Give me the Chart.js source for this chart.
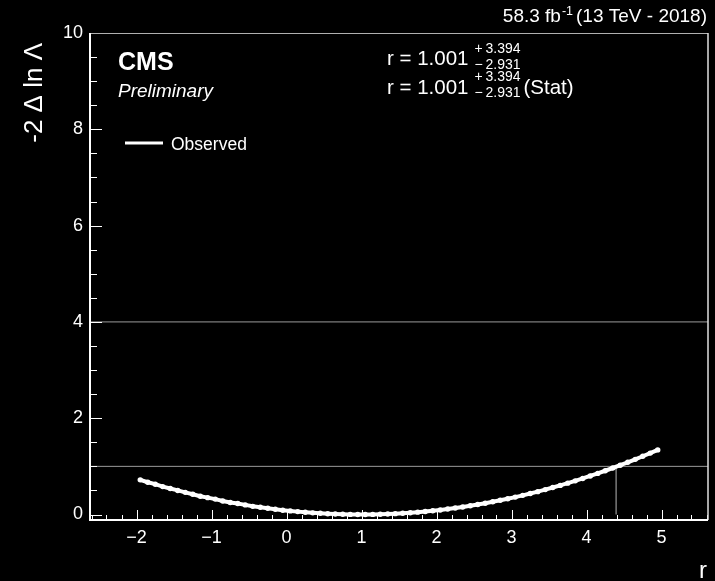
<!DOCTYPE html>
<html>
<head>
<meta charset="utf-8">
<script src="https://cdn.jsdelivr.net/npm/chart.js@4.4.1/dist/chart.umd.min.js"></script>
<style>
  html, body { margin: 0; padding: 0; background: #000; }
  #wrap { width: 715px; height: 581px; }
</style>
</head>
<body>
<div id="wrap"><canvas id="scan" width="715" height="581"></canvas></div>
<script>
// likelihood scan in r: -2 delta ln L at each scan point
const scanR = [
  -1.95, -1.85, -1.75, -1.65, -1.55, -1.45, -1.35, -1.25, -1.15, -1.05,
  -0.95, -0.85, -0.75, -0.65, -0.55, -0.45, -0.35, -0.25, -0.15, -0.05,
   0.05,  0.15,  0.25,  0.35,  0.45,  0.55,  0.65,  0.75,  0.85,  0.95,
   1.05,  1.15,  1.25,  1.35,  1.45,  1.55,  1.65,  1.75,  1.85,  1.95,
   2.05,  2.15,  2.25,  2.35,  2.45,  2.55,  2.65,  2.75,  2.85,  2.95,
   3.05,  3.15,  3.25,  3.35,  3.45,  3.55,  3.65,  3.75,  3.85,  3.95,
   4.05,  4.15,  4.25,  4.35,  4.45,  4.55,  4.65,  4.75,  4.85,  4.95
];
const scanNll = [
  0.72, 0.67, 0.63, 0.58, 0.54, 0.50, 0.46, 0.42, 0.38, 0.35,
  0.32, 0.28, 0.25, 0.23, 0.20, 0.17, 0.15, 0.13, 0.11, 0.09,
  0.075, 0.06, 0.047, 0.035, 0.025, 0.017, 0.010, 0.005, 0.002, 0.0,
  0.0, 0.002, 0.005, 0.011, 0.018, 0.026, 0.037, 0.049, 0.062, 0.078,
  0.095, 0.114, 0.135, 0.157, 0.182, 0.207, 0.235, 0.264, 0.295, 0.328,
  0.362, 0.398, 0.436, 0.475, 0.517, 0.560, 0.605, 0.651, 0.699, 0.749,
  0.801, 0.854, 0.909, 0.966, 1.024, 1.084, 1.146, 1.210, 1.275, 1.342
];

const xTicks = [-2, -1, 0, 1, 2, 3, 4, 5];
const yTicks = [0, 2, 4, 6, 8, 10];
const levelLines = [1, 4];

const rBest = 1.001;
const rErrUp = 3.394;
const rErrDown = 2.931;

const xMin = -2.62, xMax = 5.62;
const yMin = -0.114, yMax = 10;

const FONT = '"Liberation Sans", Arial, Helvetica, sans-serif';
Chart.defaults.font.family = FONT;

const datasets = [{
  label: 'Observed',
  data: scanR.map((r, i) => ({ x: r, y: scanNll[i] })),
  borderColor: '#ffffff',
  backgroundColor: '#ffffff',
  borderWidth: 4,
  pointRadius: 2.7,
  pointBorderWidth: 0,
  tension: 0
}];

// horizontal reference levels across the whole frame
levelLines.forEach(lv => {
  datasets.push({
    label: 'level ' + lv,
    data: [{ x: xMin, y: lv }, { x: xMax, y: lv }],
    borderColor: '#9a9a9a',
    borderWidth: 1,
    pointRadius: 0
  });
});

// upper edge of the 68% interval, drawn down to the minimum
datasets.push({
  label: 'upper bound',
  data: [{ x: rBest + rErrUp, y: 0 }, { x: rBest + rErrUp, y: 1 }],
  borderColor: '#7a7a7a',
  borderWidth: 1.5,
  pointRadius: 0
});

function line(ctx, x1, y1, x2, y2) {
  ctx.beginPath();
  ctx.moveTo(x1, y1);
  ctx.lineTo(x2, y2);
  ctx.stroke();
}

// text with a raised and a lowered index placed after it
function drawWithErrors(ctx, x, base, main, up, down, tail) {
  ctx.font = '20.5px ' + FONT;
  ctx.fillText(main, x, base);
  const sx = x + ctx.measureText(main).width + 6;
  ctx.font = '14px ' + FONT;
  ctx.fillText('+', sx, base - 12.5);
  ctx.fillText(up, sx + 11, base - 12.5);
  ctx.fillText('\u2212', sx, base + 3.5);
  ctx.fillText(down, sx + 11, base + 3.5);
  if (tail) {
    const tx = sx + 11 + Math.max(ctx.measureText(up).width, ctx.measureText(down).width) + 3;
    ctx.font = '20.5px ' + FONT;
    ctx.fillText(tail, tx, base);
  }
}

const frameDecor = {
  id: 'frameDecor',
  afterDatasetsDraw(chart) {
    const ctx = chart.ctx;
    const { left, right, top, bottom } = chart.chartArea;
    const xs = chart.scales.x, ys = chart.scales.y;
    ctx.save();
    ctx.strokeStyle = '#ffffff';
    ctx.lineWidth = 1;

    // x ticks: majors every 1, minors every 0.2, pointing into the frame
    for (let k = Math.ceil(xMin / 0.2); k * 0.2 <= xMax; k++) {
      const v = k * 0.2;
      const major = Math.abs(v - Math.round(v)) < 1e-6;
      const px = Math.round(xs.getPixelForValue(v)) + 0.5;
      line(ctx, px, bottom, px, bottom - (major ? 10 : 5));
    }
    // y ticks: majors every 2, minors every 0.5
    for (let k = 0; k * 0.5 <= yMax; k++) {
      const v = k * 0.5;
      const major = k % 4 === 0;
      const py = Math.round(ys.getPixelForValue(v)) + 0.5;
      line(ctx, left, py, left + (major ? 12 : 7), py);
    }

    // frame
    ctx.strokeStyle = '#b0b0b0';
    line(ctx, left, top + 0.5, right, top + 0.5);
    ctx.strokeStyle = '#e0e0e0';
    ctx.lineWidth = 1.5;
    line(ctx, right, top, right, bottom);
    ctx.strokeStyle = '#ffffff';
    ctx.lineWidth = 2;
    line(ctx, left, top, left, bottom + 1);
    line(ctx, left, bottom, right, bottom);
    ctx.restore();
  },
  afterDraw(chart) {
    const ctx = chart.ctx;
    ctx.save();
    ctx.fillStyle = '#ffffff';
    ctx.textBaseline = 'alphabetic';
    ctx.textAlign = 'left';

    ctx.font = 'bold 25px ' + FONT;
    ctx.fillText('CMS', 118, 70);
    ctx.font = 'italic 19px ' + FONT;
    ctx.fillText('Preliminary', 118, 97);

    // legend entry
    ctx.strokeStyle = '#ffffff';
    ctx.lineWidth = 3;
    line(ctx, 125, 143, 163, 143);
    ctx.font = '17.5px ' + FONT;
    ctx.fillText('Observed', 171, 149.5);

    // fit result
    const best = rBest.toFixed(3);
    drawWithErrors(ctx, 387, 65, 'r = ' + best, rErrUp.toFixed(3), rErrDown.toFixed(3), null);
    drawWithErrors(ctx, 387, 93.5, 'r = ' + best, rErrUp.toFixed(3), rErrDown.toFixed(3), '(Stat)');

    // luminosity label, right aligned to the frame
    ctx.font = '19px ' + FONT;
    ctx.textAlign = 'right';
    const tail = '(13 TeV - 2018)';
    ctx.fillText(tail, 707, 22);
    let x = 707 - ctx.measureText(tail).width - 3;
    ctx.font = '12.5px ' + FONT;
    ctx.fillText('-1', x, 15);
    x -= ctx.measureText('-1').width + 1;
    ctx.font = '19px ' + FONT;
    ctx.fillText('58.3 fb', x, 22);

    // axis titles
    ctx.font = '24px ' + FONT;
    ctx.fillText('r', 707, 578);
    ctx.translate(42, 43);
    ctx.rotate(-Math.PI / 2);
    ctx.font = '26px ' + FONT;
    ctx.textAlign = 'right';
    ctx.fillText('-2 \u0394 ln \u039B', 0, 0);
    ctx.restore();
  }
};

const ctx = document.getElementById('scan').getContext('2d');
new Chart(ctx, {
  type: 'line',
  data: { datasets: datasets },
  options: {
    responsive: false,
    animation: false,
    events: [],
    layout: { padding: { top: 33, right: 7, left: 0, bottom: 0 } },
    plugins: { legend: { display: false }, tooltip: { enabled: false } },
    scales: {
      x: {
        type: 'linear',
        min: xMin,
        max: xMax,
        grid: { display: false, drawTicks: false },
        border: { display: false },
        afterBuildTicks: s => { s.ticks = xTicks.map(v => ({ value: v })); },
        afterFit: s => { s.height = 61; },
        ticks: {
          color: '#ffffff',
          font: { size: 18 },
          padding: 7,
          autoSkip: false,
          maxRotation: 0,
          callback: v => (v < 0 ? '\u2212' + Math.abs(v) : String(v))
        }
      },
      y: {
        type: 'linear',
        min: yMin,
        max: yMax,
        grid: { display: false, drawTicks: false },
        border: { display: false },
        afterBuildTicks: s => { s.ticks = yTicks.map(v => ({ value: v })); },
        afterFit: s => { s.width = 90; },
        ticks: {
          color: '#ffffff',
          font: { size: 18 },
          padding: 7,
          autoSkip: false
        }
      }
    }
  },
  plugins: [frameDecor]
});
</script>
</body>
</html>
